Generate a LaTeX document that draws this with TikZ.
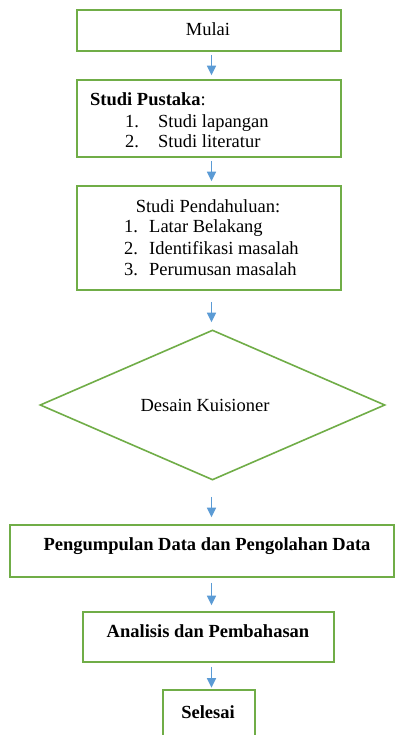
\documentclass[tikz,border=0pt]{standalone}
\usepackage{fontspec}
\setmainfont{Liberation Serif}
\usetikzlibrary{shapes.geometric,arrows.meta}
\definecolor{boxgreen}{HTML}{70AD47}
\definecolor{arrowblue}{HTML}{5B9BD5}
\begin{document}
\begin{tikzpicture}[x=1pt,y=-1pt,
  box/.style={draw=boxgreen,line width=1.6pt,inner sep=0pt},
  lbl/.style={font=\fontsize{18.5}{22}\selectfont,inner sep=0pt,anchor=base},
  lblw/.style={lbl,anchor=base west},
  flow/.style={draw=arrowblue,line width=1.3pt,-{Triangle[length=9.5pt,width=9pt]}}]
\useasboundingbox (0,0) rectangle (395,735);
\clip (0,0) rectangle (395,735);
\fill[white] (0,0) rectangle (395,735);

% flow axis
\coordinate (axis) at (211.5,0);

% boxes
\node[box,minimum width=264pt,minimum height=41pt] (mulai) at (209,30.5) {};
\node[box,minimum width=264pt,minimum height=77pt] (pustaka) at (209,118.5) {};
\node[box,minimum width=264pt,minimum height=104pt] (pendahuluan) at (209,238) {};
\node[box,shape=diamond,minimum width=345pt,minimum height=150pt] (desain) at (212.5,405) {};
\node[box,minimum width=384pt,minimum height=52pt] (kumpul) at (202,551) {};
\node[box,minimum width=251pt,minimum height=50pt] (analisis) at (208.5,637) {};
\node[box,minimum width=92pt,minimum height=70pt] (selesai) at (209,725) {};

% texts
\node[lbl] (tmulai) at (208,36) {Mulai};
\node[lblw] (tpustaka) at (90,106) {\textbf{Studi Pustaka}:};
\node[lblw] (np1) at (125,128) {1.};
\node[lblw] (ip1) at (158,128) {Studi lapangan};
\node[lblw] (np2) at (125,148) {2.};
\node[lblw] (ip2) at (158,148) {Studi literatur};
\node[lbl] (tpendahuluan) at (208,212) {Studi Pendahuluan:};
\node[lblw] (nd1) at (124,233) {1.};
\node[lblw] (id1) at (149,233) {Latar Belakang};
\node[lblw] (nd2) at (124,254.5) {2.};
\node[lblw] (id2) at (149,254.5) {Identifikasi masalah};
\node[lblw] (nd3) at (124,275.5) {3.};
\node[lblw] (id3) at (149,275.5) {Perumusan masalah};
\node[lbl] (tdesain) at (205,411) {Desain Kuisioner};
\node[lbl,font=\fontsize{18.5}{22}\selectfont\bfseries] (tkumpul) at (207,550) {Pengumpulan Data dan Pengolahan Data};
\node[lbl,font=\fontsize{18.5}{22}\selectfont\bfseries] (tanalisis) at (208,637) {Analisis dan Pembahasan};
\node[lbl,font=\fontsize{18.5}{22}\selectfont\bfseries] (tselesai) at (208,718) {Selesai};

% connectors
\draw[flow,shorten <=3pt,shorten >=4pt] (mulai.south -| axis) -- (pustaka.north -| axis);
\draw[flow,shorten <=3pt,shorten >=4pt] (pustaka.south -| axis) -- (pendahuluan.north -| axis);
\draw[flow,shorten <=11pt,shorten >=7pt] (pendahuluan.south -| axis) -- (desain.north -| axis);
\draw[flow,shorten <=16pt,shorten >=7pt] (desain.south -| axis) -- (kumpul.north -| axis);
\draw[flow,shorten <=5pt,shorten >=6pt] (kumpul.south -| axis) -- (analisis.north -| axis);
\draw[flow,shorten <=4pt,shorten >=1.5pt] (analisis.south -| axis) -- (selesai.north -| axis);
\end{tikzpicture}
\end{document}
